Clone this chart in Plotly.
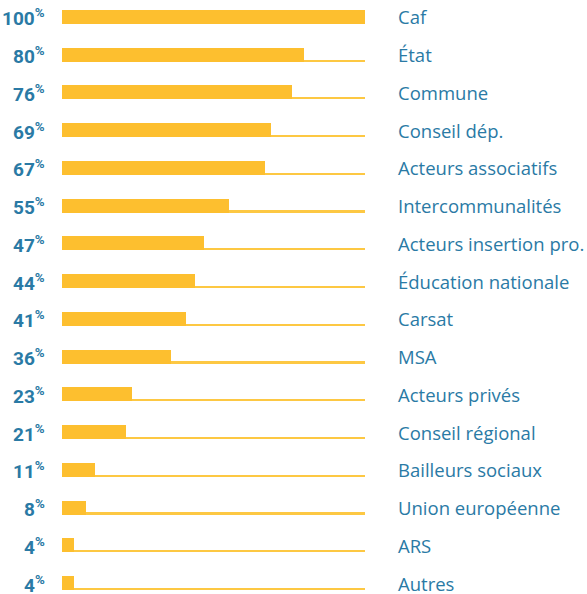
import plotly.graph_objects as go

categories = ["Caf", "État", "Commune", "Conseil dép.", "Acteurs associatifs",
              "Intercommunalités", "Acteurs insertion pro.", "Éducation nationale",
              "Carsat", "MSA", "Acteurs privés", "Conseil régional",
              "Bailleurs sociaux", "Union européenne", "ARS", "Autres"]
values = [100, 80, 76, 69, 67, 55, 47, 44, 41, 36, 23, 21, 11, 8, 4, 4]
track = [100] * len(categories)

BLUE = "#2a7aa5"
BAR = "#fdbf2f"
TRACK = "#fdc843"
NUMFONT = "Roboto"
LABFONT = "Open Sans"

idx = list(range(len(categories)))
bw = 0.37

fig = go.Figure()
fig.add_trace(go.Bar(
    x=track, y=idx, orientation="h", width=0.045, offset=bw / 2 - 0.045,
    marker=dict(color=TRACK, line=dict(width=0)), hoverinfo="skip", showlegend=False))
fig.add_trace(go.Bar(
    x=values, y=idx, orientation="h", width=bw, offset=-bw / 2,
    marker=dict(color=BAR, line=dict(width=0)), showlegend=False))

for i, (c, v) in enumerate(zip(categories, values)):
    fig.add_annotation(x=0, y=i, xref="x", yref="y", xanchor="right", yanchor="middle",
                       xshift=-15, yshift=-1, showarrow=False,
                       text=f"<b>{v}<sup>%</sup></b>",
                       font=dict(family=NUMFONT, size=19, color=BLUE))
    fig.add_annotation(x=100, y=i, xref="x", yref="y", xanchor="left", yanchor="middle",
                       xshift=31, showarrow=False, text=c,
                       font=dict(family=LABFONT, size=18.5, color=BLUE))

fig.update_layout(
    width=587, height=594,
    margin=dict(l=62, r=222, t=0, b=0),
    paper_bgcolor="white", plot_bgcolor="white",
    barmode="overlay", bargap=0,
    xaxis=dict(range=[0, 100], visible=False, fixedrange=True),
    yaxis=dict(range=[15.29, -0.45], visible=False, fixedrange=True),
)

fig.write_html("out.html")
